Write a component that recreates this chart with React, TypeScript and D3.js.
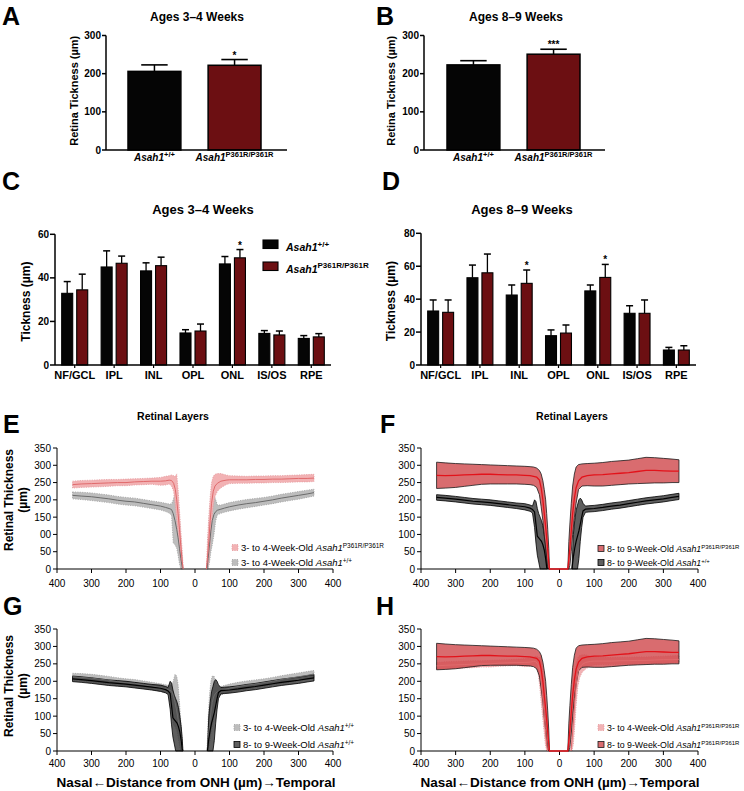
import React from "react";
import * as d3 from "d3";

const FONT = "Arial, 'Liberation Sans', Helvetica, sans-serif";

// ---------- data ----------
const gene = "Asah1";
const genotypes = ["+/+", "P361R/P361R"];

const totalTicks = [0, 100, 200, 300];
const totalMean34 = [206, 222];
const totalSd34 = [17, 15];
const totalStars34 = ["", "*"];
const totalMean89 = [223, 251];
const totalSd89 = [11, 13];
const totalStars89 = ["", "***"];

const layers = ["NF/GCL", "IPL", "INL", "OPL", "ONL", "IS/OS", "RPE"];
const layerTicks34 = [0, 20, 40, 60];
const layerWt34 = [32.9, 45, 43.2, 14.7, 46.4, 14.5, 12.2];
const layerWt34Sd = [5.4, 7.4, 3.7, 1.5, 3.4, 1.3, 1.3];
const layerMut34 = [34.5, 46.7, 45.6, 15.6, 49.2, 13.8, 12.9];
const layerMut34Sd = [7.2, 3.3, 3.9, 3.2, 3.8, 1.8, 1.5];
const layerStars34 = ["", "", "", "", "*", "", ""];

const layerTicks89 = [0, 20, 40, 60, 80];
const layerWt89 = [32.8, 53, 42.5, 17.8, 45, 31.4, 9.1];
const layerWt89Sd = [6.7, 7.7, 6.1, 3.5, 3.6, 4.6, 1.6];
const layerMut89 = [32, 56, 49.6, 19.4, 53.2, 31.4, 9.1];
const layerMut89Sd = [7.5, 11.4, 8.1, 4.9, 7.9, 8.1, 2.6];
const layerStars89 = ["", "", "*", "", "*", "", ""];

type Pt = [number, number, number, number]; // distance, mean, lower, upper

const profileXTicks = [-400, -300, -200, -100, 0, 100, 200, 300, 400];
const profileYTicks = [0, 50, 100, 150, 200, 250, 300, 350];
const profileYLabels = ["0", "50", "100", "150", "200", "250", "300", "350"];
const profileYLabelsE = ["0", "50", "00", "150", "200", "250", "300", "350"];

// 3- to 4-week-old Asah1 P361R/P361R
const mut34Nasal: Pt[] = [
  [-355, 244, 234, 254], [-330, 246, 236, 256], [-300, 247, 237, 257], [-275, 248, 238, 258],
  [-250, 249, 239, 259], [-225, 250, 241, 259], [-200, 250, 241, 260], [-175, 252, 243, 261],
  [-150, 253, 244, 262], [-125, 254, 245, 263], [-100, 254, 242, 265], [-85, 255, 243, 268],
  [-75, 257, 246, 270], [-68, 256, 240, 272], [-62, 248, 225, 270], [-57, 230, 185, 268],
  [-53, 200, 140, 275], [-49, 160, 100, 230], [-45, 115, 60, 170], [-41, 65, 20, 110],
  [-37, 20, 0, 50], [-34, 0, 0, 0],
];
const mut34Temporal: Pt[] = [
  [33, 0, 0, 0], [36, 30, 0, 80], [40, 80, 20, 150], [44, 140, 70, 210], [48, 190, 130, 250],
  [53, 225, 185, 268], [58, 240, 210, 274], [65, 248, 225, 276], [75, 254, 235, 276],
  [90, 257, 244, 272], [100, 258, 247, 270], [125, 258, 248, 269], [150, 258, 248, 268],
  [175, 259, 249, 269], [200, 259, 249, 269], [225, 260, 250, 270], [250, 260, 250, 270],
  [275, 261, 251, 271], [300, 262, 252, 272], [325, 262, 252, 273], [345, 263, 253, 274],
];

// 3- to 4-week-old Asah1 +/+
const wt34Nasal: Pt[] = [
  [-355, 213, 203, 223], [-330, 211, 201, 222], [-300, 209, 198, 220], [-275, 206, 195, 217],
  [-250, 203, 192, 214], [-225, 199, 188, 210], [-200, 196, 185, 207], [-175, 194, 183, 205],
  [-150, 190, 179, 201], [-125, 186, 175, 197], [-100, 182, 171, 193], [-85, 178, 166, 190],
  [-75, 175, 162, 188], [-68, 172, 155, 188], [-63, 160, 75, 200], [-58, 140, 70, 220],
  [-53, 115, 60, 215], [-49, 90, 40, 190], [-45, 60, 15, 140], [-41, 30, 0, 80],
  [-37, 5, 0, 30], [-35, 0, 0, 0],
];
const wt34Temporal: Pt[] = [
  [35, 0, 0, 0], [38, 30, 0, 90], [42, 70, 20, 160], [46, 110, 50, 200], [50, 140, 70, 215],
  [55, 158, 100, 215], [60, 166, 140, 200], [65, 170, 157, 185], [75, 173, 161, 185],
  [85, 176, 164, 188], [100, 180, 168, 192], [125, 185, 173, 197], [150, 189, 177, 201],
  [175, 192, 181, 204], [200, 196, 185, 207], [225, 200, 189, 211], [250, 205, 194, 216],
  [275, 209, 198, 220], [300, 213, 202, 224], [325, 217, 207, 228], [345, 221, 211, 231],
];

// 8- to 9-week-old Asah1 P361R/P361R
const mut89Nasal: Pt[] = [
  [-355, 271, 233, 309], [-330, 270, 234, 307], [-300, 271, 236, 305], [-275, 272, 239, 304],
  [-250, 273, 242, 303], [-225, 274, 245, 302], [-200, 274, 246, 301], [-175, 273, 246, 300],
  [-150, 272, 246, 299], [-125, 272, 246, 298], [-100, 271, 245, 297], [-85, 270, 244, 296],
  [-75, 268, 242, 295], [-66, 266, 236, 292], [-58, 257, 215, 285], [-53, 235, 180, 275],
  [-48, 200, 140, 255], [-44, 160, 95, 230], [-40, 122, 60, 200], [-37, 90, 30, 160],
  [-34, 55, 5, 115], [-31, 20, 0, 60], [-29, 0, 0, 0],
];
const mut89Temporal: Pt[] = [
  [24, 0, 0, 0], [27, 30, 0, 80], [30, 60, 10, 130], [34, 110, 50, 190], [38, 160, 100, 240],
  [43, 205, 150, 275], [48, 235, 190, 295], [55, 255, 230, 302], [65, 266, 240, 304],
  [80, 270, 241, 305], [100, 272, 240, 306], [125, 273, 240, 308], [150, 275, 242, 311],
  [175, 277, 244, 313], [200, 279, 246, 315], [225, 282, 247, 319], [250, 285, 248, 323],
  [275, 285, 249, 322], [300, 284, 249, 320], [325, 283, 250, 318], [345, 283, 250, 316],
];

// 8- to 9-week-old Asah1 +/+
const wt89Nasal: Pt[] = [
  [-355, 207, 199, 215], [-330, 205, 197, 213], [-300, 202, 194, 210], [-275, 199, 191, 207],
  [-250, 196, 188, 204], [-225, 194, 186, 202], [-200, 192, 184, 200], [-175, 189, 181, 197],
  [-150, 186, 178, 194], [-125, 183, 175, 191], [-100, 180, 171, 189], [-85, 176, 167, 185],
  [-78, 172, 162, 182], [-72, 165, 120, 200], [-68, 130, 75, 195], [-64, 95, 40, 175],
  [-60, 90, 20, 160], [-56, 85, 0, 150], [-52, 80, 0, 140], [-48, 70, 0, 125],
  [-44, 55, 0, 100], [-40, 30, 0, 70], [-37, 5, 0, 35], [-35, 0, 0, 0],
];
const wt89Temporal: Pt[] = [
  [36, 0, 0, 0], [40, 35, 0, 100], [44, 60, 0, 140], [48, 80, 0, 170], [52, 95, 0, 185],
  [56, 110, 30, 200], [60, 130, 80, 205], [64, 150, 120, 200], [68, 168, 150, 190],
  [75, 173, 164, 182], [85, 174, 165, 183], [100, 175, 166, 184], [125, 178, 169, 187],
  [150, 182, 173, 191], [175, 185, 176, 194], [200, 189, 180, 198], [225, 193, 184, 202],
  [250, 197, 188, 206], [275, 200, 191, 209], [300, 203, 194, 212], [325, 207, 198, 216],
  [345, 210, 201, 219],
];

// ---------- styles ----------
type Sty = { fill: string; opacity: number; stroke: string; dash?: string; line: string; lineW: number; bridge?: boolean };
const STY: Record<string, Sty> = {
  mut34: { fill: "#f2b2b4", opacity: 1, stroke: "#e49a9e", dash: "1.2 1.2", line: "#e06a6c", lineW: 1 },
  wt34: { fill: "#bdbdbd", opacity: 1, stroke: "#9f9f9f", dash: "1.2 1.2", line: "#6b6b6b", lineW: 1 },
  mut89: { fill: "#d0474b", opacity: 0.8, stroke: "#1a1a1a", line: "#e3121a", lineW: 1.3, bridge: true },
  wt89: { fill: "#3c3c3c", opacity: 0.82, stroke: "#000", line: "#000", lineW: 1.2 },
};
const barColors = ["#050505", "#6c0f12"];

// ---------- helpers ----------
function Gene({ sup, size, supSize, rise }: { sup: string; size: number; supSize: number; rise: number }) {
  return (
    <>
      <tspan fontStyle="italic" fontSize={size}>{gene}</tspan>
      <tspan fontSize={supSize} dy={-rise}>{sup}</tspan>
    </>
  );
}

function TotalPanel(p: {
  letter: string; letterX: number; title: string; titleX: number; axisX: number; axisEnd: number;
  band: [number, number]; means: number[]; sds: number[]; stars: string[]; yLabelX: number;
}) {
  const y = d3.scaleLinear().domain([0, 300]).range([150, 35.5]);
  const x = d3.scaleBand<string>().domain(genotypes).range(p.band).paddingInner(0.34).paddingOuter(0);
  const bw = x.bandwidth();
  return (
    <g>
      <text x={p.letterX} y={25} fontSize={25} fontWeight="bold">{p.letter}</text>
      <text x={p.titleX} y={21} fontSize={12} fontWeight="bold" textAnchor="middle">{p.title}</text>
      <text transform={`translate(${p.yLabelX},${y(150) - 2}) rotate(-90)`} fontSize={11} fontWeight="bold" textAnchor="middle" dy="0.35em">
        Retina Tickness (µm)
      </text>
      {genotypes.map((g, i) => {
        const x0 = x(g) as number;
        const cx = x0 + bw / 2;
        const top = y(p.means[i]);
        const et = y(p.means[i] + p.sds[i]);
        return (
          <g key={g}>
            <line x1={cx} x2={cx} y1={top} y2={et} stroke="#000" strokeWidth={1.5} />
            <line x1={cx - bw / 4} x2={cx + bw / 4} y1={et} y2={et} stroke="#000" strokeWidth={1.6} />
            <rect x={x0} y={top} width={bw} height={y(0) - top} fill={barColors[i]} stroke="#000" strokeWidth={1.5} />
            {p.stars[i] && (
              <text x={cx} y={et - 1} fontSize={10} fontWeight="bold" textAnchor="middle">{p.stars[i]}</text>
            )}
            <text x={cx} y={160.5} fontSize={10} fontWeight="bold" textAnchor="middle">
              <Gene sup={g} size={10} supSize={7.5} rise={4} />
            </text>
          </g>
        );
      })}
      <line x1={p.axisX} x2={p.axisX} y1={y(0)} y2={y(300)} stroke="#000" strokeWidth={1.5} />
      <line x1={p.axisX} x2={p.axisEnd} y1={y(0)} y2={y(0)} stroke="#000" strokeWidth={1.5} />
      {totalTicks.map((t) => (
        <g key={t}>
          <line x1={p.axisX - 4} x2={p.axisX} y1={y(t)} y2={y(t)} stroke="#000" strokeWidth={1.5} />
          <text x={p.axisX - 5} y={y(t)} dy="0.35em" fontSize={10} fontWeight="bold" textAnchor="end">{t}</text>
        </g>
      ))}
    </g>
  );
}

function GroupPanel(p: {
  letter: string; letterX: number; title: string; titleX: number; axisX: number; rangeEnd: number;
  yMax: number; yTop: number; ticks: number[]; wt: number[]; wtSd: number[]; mut: number[]; mutSd: number[];
  stars: string[]; yLabelX: number; legend?: boolean;
}) {
  const y = d3.scaleLinear().domain([0, p.yMax]).range([365, p.yTop]);
  const x0 = d3.scaleBand<string>().domain(layers).range([p.axisX, p.rangeEnd]).paddingInner(0.34).paddingOuter(0.17);
  const x1 = d3.scaleBand<string>().domain(genotypes).range([0, x0.bandwidth()]).paddingInner(0.267);
  const bw = x1.bandwidth();
  const series = [
    { vals: p.wt, sds: p.wtSd, stars: layers.map(() => "") },
    { vals: p.mut, sds: p.mutSd, stars: p.stars },
  ];
  return (
    <g>
      <text x={p.letterX} y={190} fontSize={25} fontWeight="bold">{p.letter}</text>
      <text x={p.titleX} y={214} fontSize={13} fontWeight="bold" textAnchor="middle">{p.title}</text>
      <text transform={`translate(${p.yLabelX},${y(p.yMax / 2) + 2}) rotate(-90)`} fontSize={12} fontWeight="bold" textAnchor="middle" dy="0.35em">
        Tickness (µm)
      </text>
      {layers.map((L, li) => (
        <g key={L}>
          {series.map((s, si) => {
            const bx = (x0(L) as number) + (x1(genotypes[si]) as number);
            const cx = bx + bw / 2;
            const top = y(s.vals[li]);
            const et = y(s.vals[li] + s.sds[li]);
            return (
              <g key={si}>
                <line x1={cx} x2={cx} y1={top} y2={et} stroke="#000" strokeWidth={1.3} />
                <line x1={cx - 3.5} x2={cx + 3.5} y1={et} y2={et} stroke="#000" strokeWidth={1.5} />
                <rect x={bx} y={top} width={bw} height={y(0) - top} fill={barColors[si]} stroke="#000" strokeWidth={1.1} />
                {s.stars[li] && (
                  <text x={cx} y={et - 1} fontSize={10} fontWeight="bold" textAnchor="middle">{s.stars[li]}</text>
                )}
              </g>
            );
          })}
          <line x1={(x0(L) as number) + x0.bandwidth() / 2} x2={(x0(L) as number) + x0.bandwidth() / 2} y1={365} y2={368} stroke="#000" strokeWidth={1.2} />
          <text x={(x0(L) as number) + x0.bandwidth() / 2} y={379} fontSize={11} fontWeight="bold" textAnchor="middle">{L}</text>
        </g>
      ))}
      <line x1={p.axisX} x2={p.axisX} y1={y(0)} y2={y(p.yMax)} stroke="#000" strokeWidth={1.5} />
      <line x1={p.axisX} x2={p.rangeEnd} y1={y(0)} y2={y(0)} stroke="#000" strokeWidth={1.5} />
      {p.ticks.map((t) => (
        <g key={t}>
          <line x1={p.axisX - 5} x2={p.axisX} y1={y(t)} y2={y(t)} stroke="#000" strokeWidth={1.5} />
          <text x={p.axisX - 6} y={y(t)} dy="0.35em" fontSize={10} fontWeight="bold" textAnchor="end">{t}</text>
        </g>
      ))}
      {p.legend && (
        <g>
          {genotypes.map((g, i) => (
            <g key={g}>
              <rect x={263} y={240 + i * 22} width={15} height={8.5} fill={barColors[i]} stroke="#000" strokeWidth={1.1} />
              <text x={286} y={251 + i * 21.5} fontSize={10.5} fontWeight="bold">
                <Gene sup={g} size={10.5} supSize={8} rise={4.5} />
              </text>
            </g>
          ))}
        </g>
      )}
    </g>
  );
}

type SeriesDef = { nasal: Pt[]; temporal: Pt[]; sty: Sty };
type LegendDef = { sty: Sty; prefix: string; sup: string };

function ProfilePanel(p: {
  letter: string; letterX: number; letterY: number; title?: string; titleX?: number;
  axisX: number; axisEnd: number; yTop: number; yBottom: number; series: SeriesDef[];
  legend: LegendDef[]; legendX: number; legendYs: number[]; legendFont: number; yLabels: string[]; xLabelY: number;
  yLabel?: { x1: number; x2: number; cy: number }; xTitle?: { x: number; y: number };
}) {
  const x = d3.scaleLinear().domain([-400, 400]).range([p.axisX, p.axisEnd]);
  const y = d3.scaleLinear().domain([0, 350]).range([p.yBottom, p.yTop]);
  const area = d3.area<Pt>().x((d) => x(d[0])).y0((d) => y(d[2])).y1((d) => y(d[3]));
  const line = d3.line<Pt>().x((d) => x(d[0])).y((d) => y(d[1]));
  const lf = p.legendFont;
  return (
    <g>
      <text x={p.letterX} y={p.letterY} fontSize={25} fontWeight="bold">{p.letter}</text>
      {p.title && (
        <text x={p.titleX} y={420} fontSize={10.5} fontWeight="bold" textAnchor="middle">{p.title}</text>
      )}
      {p.yLabel && (
        <g fontSize={12} fontWeight="bold" textAnchor="middle">
          <text transform={`translate(${p.yLabel.x1},${p.yLabel.cy}) rotate(-90)`} dy="0.35em">Retinal Thickness</text>
          <text transform={`translate(${p.yLabel.x2},${p.yLabel.cy}) rotate(-90)`} dy="0.35em">(µm)</text>
        </g>
      )}
      {p.series.map((s, i) => (
        <g key={"b" + i}>
          {[s.nasal, s.temporal].map((seg, j) => (
            <path key={j} d={area(seg) || ""} fill={s.sty.fill} fillOpacity={s.sty.opacity}
              stroke={s.sty.stroke} strokeWidth={0.8} strokeDasharray={s.sty.dash} />
          ))}
        </g>
      ))}
      <line x1={p.axisX} x2={p.axisX} y1={p.yBottom} y2={p.yTop} stroke="#000" strokeWidth={1} />
      <line x1={p.axisX} x2={p.axisEnd} y1={p.yBottom} y2={p.yBottom} stroke="#000" strokeWidth={1} />
      {profileYTicks.map((t, i) => (
        <g key={t}>
          <line x1={p.axisX - 4} x2={p.axisX} y1={y(t)} y2={y(t)} stroke="#000" strokeWidth={1} />
          <text x={p.axisX - 6} y={y(t)} dy="0.35em" fontSize={10} textAnchor="end">{p.yLabels[i]}</text>
        </g>
      ))}
      {profileXTicks.map((t) => (
        <g key={t}>
          <line x1={x(t)} x2={x(t)} y1={p.yBottom} y2={p.yBottom + 4} stroke="#000" strokeWidth={1} />
          <text x={x(t)} y={p.xLabelY} fontSize={10} textAnchor="middle">{Math.abs(t)}</text>
        </g>
      ))}
      {p.series.map((s, i) => (
        <g key={"l" + i} fill="none" stroke={s.sty.line} strokeWidth={s.sty.lineW}>
          {s.sty.bridge ? (
            <path d={line([...s.nasal, ...s.temporal]) || ""} />
          ) : (
            <>
              <path d={line(s.nasal) || ""} />
              <path d={line(s.temporal) || ""} />
            </>
          )}
        </g>
      ))}
      {p.legend.map((L, i) => (
        <g key={"g" + i}>
          <rect x={p.legendX} y={p.legendYs[i] - 6.5} width={6} height={6} fill={L.sty.fill} fillOpacity={L.sty.opacity}
            stroke={L.sty.stroke} strokeWidth={0.8} strokeDasharray={L.sty.dash} />
          <text x={p.legendX + 9} y={p.legendYs[i]} fontSize={lf}>
            {L.prefix}
            <Gene sup={L.sup} size={lf} supSize={lf * 0.68} rise={3.5} />
          </text>
        </g>
      ))}
      {p.xTitle && (
        <text x={p.xTitle.x} y={p.xTitle.y} fontSize={13.5} fontWeight="bold" textAnchor="middle">
          Nasal←Distance from ONH (µm)→Temporal
        </text>
      )}
    </g>
  );
}

export default function App() {
  const mut34 = { nasal: mut34Nasal, temporal: mut34Temporal, sty: STY.mut34 };
  const wt34 = { nasal: wt34Nasal, temporal: wt34Temporal, sty: STY.wt34 };
  const mut89 = { nasal: mut89Nasal, temporal: mut89Temporal, sty: STY.mut89 };
  const wt89 = { nasal: wt89Nasal, temporal: wt89Temporal, sty: STY.wt89 };
  const L34m = { sty: STY.mut34, prefix: "3- to 4-Week-Old ", sup: genotypes[1] };
  const L34w = { sty: STY.wt34, prefix: "3- to 4-Week-Old ", sup: genotypes[0] };
  const L89m = { sty: STY.mut89, prefix: "8- to 9-Week-Old ", sup: genotypes[1] };
  const L89w = { sty: STY.wt89, prefix: "8- to 9-Week-Old ", sup: genotypes[0] };
  return (
    <svg width={744} height={791} viewBox="0 0 744 791" fontFamily={FONT}
      style={{ position: "absolute", left: 0, top: 0, background: "#fff" }}>
      <rect width={744} height={791} fill="#fff" />
      <TotalPanel letter="A" letterX={2} title="Ages 3–4 Weeks" titleX={197} axisX={106} axisEnd={287}
        band={[128, 261]} means={totalMean34} sds={totalSd34} stars={totalStars34} yLabelX={74} />
      <TotalPanel letter="B" letterX={376} title="Ages 8–9 Weeks" titleX={516} axisX={424} axisEnd={605}
        band={[447, 580]} means={totalMean89} sds={totalSd89} stars={totalStars89} yLabelX={391} />
      <GroupPanel letter="C" letterX={2} title="Ages 3–4 Weeks" titleX={203} axisX={55} rangeEnd={331}
        yMax={60} yTop={234.3} ticks={layerTicks34} wt={layerWt34} wtSd={layerWt34Sd} mut={layerMut34}
        mutSd={layerMut34Sd} stars={layerStars34} yLabelX={26} legend />
      <GroupPanel letter="D" letterX={382} title="Ages 8–9 Weeks" titleX={522} axisX={421} rangeEnd={696}
        yMax={80} yTop={233.3} ticks={layerTicks89} wt={layerWt89} wtSd={layerWt89Sd} mut={layerMut89}
        mutSd={layerMut89Sd} stars={layerStars89} yLabelX={391} />
      <ProfilePanel letter="E" letterX={3} letterY={433} title="Retinal Layers" titleX={173}
        axisX={57} axisEnd={333} yTop={448} yBottom={569} series={[wt34, mut34]} legend={[L34m, L34w]}
        legendX={232} legendYs={[551, 566]} legendFont={9.5} yLabels={profileYLabelsE} xLabelY={587}
        yLabel={{ x1: 9, x2: 23, cy: 500 }} />
      <ProfilePanel letter="F" letterX={380} letterY={433} title="Retinal Layers" titleX={572}
        axisX={421} axisEnd={698} yTop={448} yBottom={569} series={[wt89, mut89]} legend={[L89m, L89w]}
        legendX={598} legendYs={[552, 566]} legendFont={8.8} yLabels={profileYLabels} xLabelY={587} />
      <ProfilePanel letter="G" letterX={3} letterY={615}
        axisX={57} axisEnd={333} yTop={629} yBottom={751} series={[wt34, wt89]} legend={[L34w, L89w]}
        legendX={234} legendYs={[731, 748]} legendFont={9.5} yLabels={profileYLabels} xLabelY={767}
        yLabel={{ x1: 9, x2: 23, cy: 686 }} xTitle={{ x: 196, y: 787 }} />
      <ProfilePanel letter="H" letterX={376} letterY={615}
        axisX={421} axisEnd={698} yTop={629} yBottom={751} series={[mut34, mut89]} legend={[L34m, L89m]}
        legendX={598} legendYs={[731, 748]} legendFont={8.8} yLabels={profileYLabels} xLabelY={767}
        xTitle={{ x: 560, y: 787 }} />
    </svg>
  );
}
